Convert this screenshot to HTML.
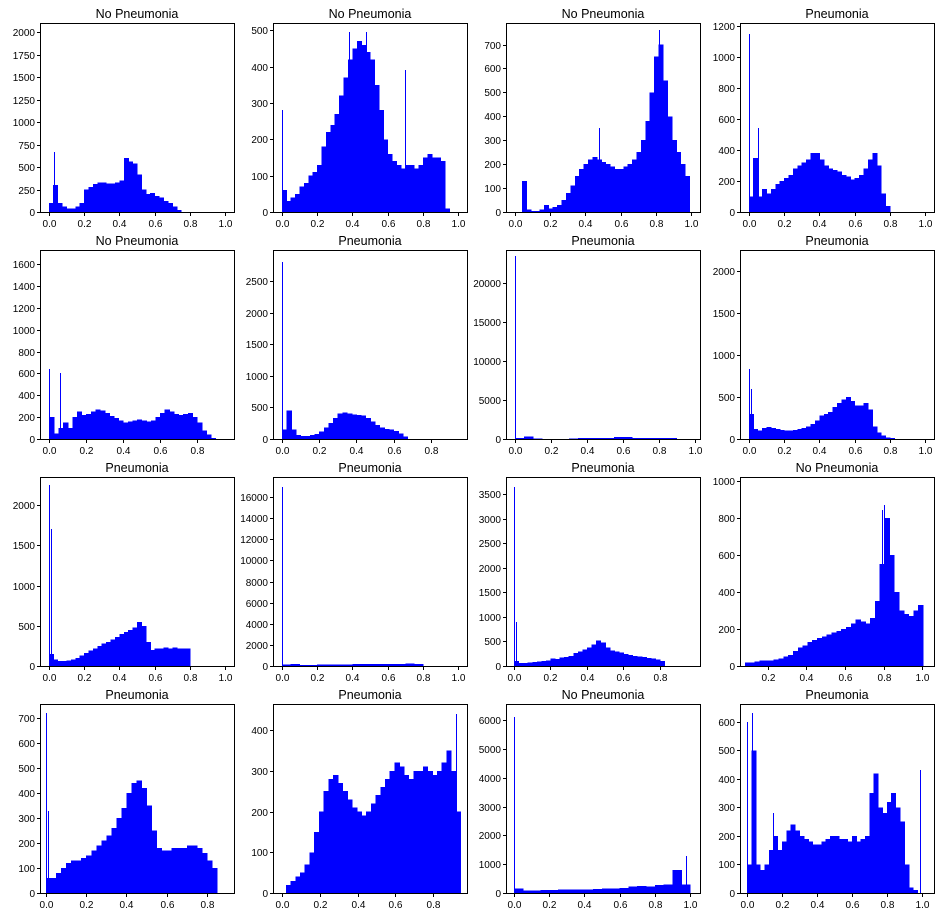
<!DOCTYPE html>
<html><head><meta charset="utf-8"><style>
body{margin:0;background:#fff;}
svg{display:block;font-family:"Liberation Sans","DejaVu Sans",sans-serif;}
</style></head><body>
<svg id="fig" width="939" height="917" viewBox="0 0 939 917"></svg>
<script>
const titles=["No Pneumonia","No Pneumonia","No Pneumonia","Pneumonia","No Pneumonia","Pneumonia","Pneumonia","Pneumonia","Pneumonia","Pneumonia","Pneumonia","No Pneumonia","Pneumonia","Pneumonia","No Pneumonia","Pneumonia"];
const binStart=[0,0,0.04,0,0,0,0,0,0,0,0,0.08,0,0.02,0,0];
const binWidth=[0.025,0.025,0.025,0.025,0.025,0.025,0.05,0.025,0.025,0.05,0.025,0.025,0.025,0.025,0.05,0.025];
const bins=[
[100,300,100,60,40,40,60,100,250,280,310,330,330,320,320,330,350,600,560,540,420,250,200,210,180,160,120,100,60,20],
[60,30,40,50,70,80,100,110,130,180,220,240,270,320,370,420,450,470,460,440,420,350,280,200,160,140,130,120,130,130,120,130,150,160,150,150,140,10],
[130,10,5,5,10,30,15,20,30,50,80,110,150,180,200,220,230,220,210,200,190,180,180,190,200,220,250,300,380,500,650,700,550,400,300,250,200,150],
[100,350,100,150,120,150,180,200,220,240,280,300,320,340,380,380,340,300,280,270,260,240,230,210,220,240,280,340,380,300,120,40],
[200,50,100,150,100,200,250,220,230,250,270,260,240,210,190,170,150,160,170,180,170,160,170,200,240,270,250,230,220,230,240,200,150,80,40,10],
[150,450,150,60,50,50,60,80,120,180,250,330,400,420,400,390,380,370,330,280,220,180,160,150,130,90,40],
[150,300,40,30,30,30,80,100,120,130,150,250,230,150,120,100,100,100],
[300,120,100,130,140,130,120,110,100,100,110,120,130,150,180,220,280,300,320,380,430,470,500,450,400,400,430,350,150,80,40,20,10],
[150,80,60,60,70,80,100,130,160,190,220,250,280,300,330,360,400,420,450,480,550,500,300,200,220,220,230,220,230,220,220,220],
[150,200,100,100,120,130,150,160,170,180,180,170,170,200,250,200],
[100,60,60,70,80,90,100,110,150,140,170,180,200,260,300,340,380,440,520,480,380,320,290,270,240,220,200,190,180,160,150,130,100],
[20,20,25,30,30,30,35,40,50,60,80,100,110,130,140,150,160,170,180,190,200,210,230,250,240,230,260,350,550,800,600,400,300,280,270,300,330],
[60,60,80,100,120,130,130,140,150,170,190,210,230,260,300,340,400,440,450,420,350,250,180,170,170,180,180,180,190,190,180,160,130,100],
[20,30,40,50,70,100,150,200,250,280,290,270,250,230,210,200,190,200,220,240,260,280,300,320,310,290,280,300,300,310,300,290,300,320,350,300,200],
[150,90,90,100,110,120,120,130,130,140,150,160,180,220,250,220,270,300,800,300],
[100,500,100,80,100,150,200,150,180,220,240,220,200,190,180,170,170,180,190,200,200,190,190,180,200,180,190,200,350,420,300,280,320,350,300,250,100,20,10,0]
];
const spikeX=[[0.03],[0,0.38,0.48,0.7],[0.48,0.82],[0,0.05],[0,0.06],[0],[0],[0,0.01],[0,0.01],[0],[0,0.01],[0.79,0.8],[0,0.01],[0.92],[0,0.98],[0,0.03,0.15,0.99]];
const spikeY=[[670],[280,495,495,390],[350,760],[1150,540],[640,600],[2800],[23500],[830,600],[2250,1700],[17000],[3650,900],[840,870],[720,330],[440],[6100,1300],[600,630,280,430]];
const xMin=[-0.05,-0.05,-0.05,-0.05,-0.05,-0.048,-0.05,-0.05,-0.05,-0.05,-0.044,0.055,-0.03,-0.048,-0.045,-0.04];
const xMax=[1.05,1.05,1.05,1.05,1.0,0.995,1.03,1.05,1.05,1.05,1.02,1.062,0.935,0.979,1.057,1.07];
const yMax=[2105,520,790,1220,1728,2990,24300,2250,2350,17900,3846,1020,756,464,6555,663];
const yStep=[250,100,100,200,200,500,5000,500,500,2000,500,200,100,100,1000,100];
const yTop=[2000,500,700,1200,1600,2500,20000,2000,2000,16000,3500,1000,700,400,6000,600];
const xTicks=[[0,0.2,0.4,0.6,0.8,1.0],[0,0.2,0.4,0.6,0.8,1.0],[0,0.2,0.4,0.6,0.8,1.0],[0,0.2,0.4,0.6,0.8,1.0],[0,0.2,0.4,0.6,0.8],[0,0.2,0.4,0.6,0.8],[0,0.2,0.4,0.6,0.8,1.0],[0,0.2,0.4,0.6,0.8,1.0],[0,0.2,0.4,0.6,0.8,1.0],[0,0.2,0.4,0.6,0.8,1.0],[0,0.2,0.4,0.6,0.8],[0.2,0.4,0.6,0.8,1.0],[0,0.2,0.4,0.6,0.8],[0,0.2,0.4,0.6,0.8],[0,0.2,0.4,0.6,0.8,1.0],[0,0.2,0.4,0.6,0.8,1.0]];

const NS="http://www.w3.org/2000/svg";
const svg=document.getElementById('fig');
const colL=[40,273,506,740],rowT=[23,250,477,704],W=194,H=189;
function mk(t,a,p){const e=document.createElementNS(NS,t);for(const k in a)e.setAttribute(k,a[k]);p.appendChild(e);return e;}
for(let i=0;i<16;i++){
  const L=colL[i%4],T=rowT[Math.floor(i/4)];
  const g=mk('g',{},svg);
  
  
  const sx=v=>L+(v-xMin[i])/(xMax[i]-xMin[i])*W;
  const sy=v=>T+H-Math.min(v,yMax[i])/yMax[i]*H;
  const bars=mk('g',{fill:'#0000ff','shape-rendering':'crispEdges'},g);
  
  
  bins[i].forEach((v,j)=>{
    const x0=sx(binStart[i]+j*binWidth[i]),x1=sx(binStart[i]+(j+1)*binWidth[i]);
    const r=mk('rect',{x:x0,y:sy(v),width:Math.max(0.5,x1-x0+0.6),height:T+H-sy(v)},bars);
    
    
  });
  spikeX[i].forEach((x,j)=>{
    const r=mk('rect',{x:Math.round(sx(x)),y:Math.round(sy(spikeY[i][j])),width:1,height:T+H-Math.round(sy(spikeY[i][j]))},bars);
    
    
  });
  const fr=mk('rect',{x:L+0.5,y:T+0.5,width:W,height:H,fill:'none',stroke:'#000','stroke-width':1},g);
  
  
  const tt=mk('text',{x:L+W/2,y:T-5,'text-anchor':'middle','font-size':12.5,fill:'#000'},g);
  tt.textContent=titles[i];
  
  
  xTicks[i].forEach(v=>{
    const x=Math.round(sx(v))+0.5;
    mk('line',{x1:x,x2:x,y1:T+H+0.5,y2:T+H+4,stroke:'#000'},g);
    const t=mk('text',{x:x,y:T+H+15,'text-anchor':'middle','font-size':10,fill:'#000'},g);
    t.textContent=v.toFixed(1);
    
    
  });
  for(let v=0;v<=yTop[i];v+=yStep[i]){
    const y=Math.round(sy(v))+0.5;
    mk('line',{x1:L+0.5,x2:L-3,y1:y,y2:y,stroke:'#000'},g);
    const t=mk('text',{x:L-5,y:y+3.5,'text-anchor':'end','font-size':10,fill:'#000'},g);
    t.textContent=String(v);
    
    
  }
}
</script>
</body></html>
